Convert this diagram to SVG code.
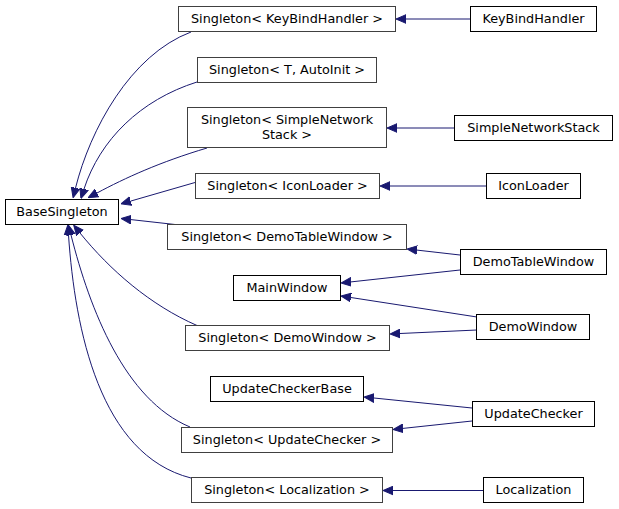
<svg xmlns="http://www.w3.org/2000/svg" width="619" height="509" viewBox="0 0 619 509">
<style>
  .n rect { fill: #ffffff; stroke: #000000; stroke-width: 1; }
  .n.t rect { stroke: #404040; }
  .n text { font-family: "DejaVu Sans", "Liberation Sans", sans-serif; font-size: 12.8px; fill: #000000; text-anchor: middle; }
  .e path { fill: none; stroke: #191970; stroke-width: 1; marker-end: url(#ah); }
</style>
<defs>
  <marker id="ah" viewBox="0 -5 10 10" refX="0" refY="0" markerWidth="10" markerHeight="10" markerUnits="userSpaceOnUse" orient="auto">
    <path d="M0,-4.3 L10,0 L0,4.3 Z" fill="#191970" stroke="#191970" stroke-width="1"/>
  </marker>
</defs>
<rect width="619" height="509" fill="#ffffff"/>
<g id="edges" class="e">
  <path d="M470,19 L406,19"/>
  <path d="M454,128 L397,128"/>
  <path d="M486,186 L390,186"/>
  <path d="M483,490.5 L393,490.5"/>
  <path d="M460,255 L417,250.1"/>
  <path d="M460,270 L351,281.9"/>
  <path d="M477,317 L350.9,297.5"/>
  <path d="M477,330 L400,333.5"/>
  <path d="M472,408 L374,398"/>
  <path d="M472,421 L403,428.4"/>
  <path d="M191,32 C130,55 90,130 75.5,188"/>
  <path d="M197,82 C140,100 100,140 84,189"/>
  <path d="M207,148 C160,162 125,178 97,193"/>
  <path d="M195,182.5 L130.6,201.1"/>
  <path d="M175,224.5 L131,219.6"/>
  <path d="M197,325.5 C150,305 110,270 80,233"/>
  <path d="M190,427 C125,400 90,310 71,235"/>
  <path d="M191,478 C100,455 75,330 68.5,235"/>
</g>
<g id="BaseSingleton" class="n"><rect x="5.5" y="199.5" width="113" height="25"/><text x="62" y="215.5">BaseSingleton</text></g>
<g id="SingletonKeyBindHandler" class="n t"><rect x="178.5" y="6.5" width="217" height="25"/><text x="287" y="22.5">Singleton&lt; KeyBindHandler &gt;</text></g>
<g id="KeyBindHandler" class="n"><rect x="470.5" y="6.5" width="126" height="25"/><text x="533.5" y="22.5">KeyBindHandler</text></g>
<g id="SingletonTAutoInit" class="n t"><rect x="197.5" y="57.5" width="179" height="25"/><text x="287" y="73.5">Singleton&lt; T, AutoInit &gt;</text></g>
<g id="SingletonSimpleNetworkStack" class="n t"><rect x="187.5" y="107.5" width="199" height="40"/><text x="287" y="123.5">Singleton&lt; SimpleNetwork</text><text x="287" y="138.5">Stack &gt;</text></g>
<g id="SimpleNetworkStack" class="n"><rect x="454.5" y="115.5" width="158" height="25"/><text x="533.5" y="131.5">SimpleNetworkStack</text></g>
<g id="SingletonIconLoader" class="n t"><rect x="195.5" y="173.5" width="184" height="25"/><text x="287.5" y="189.5">Singleton&lt; IconLoader &gt;</text></g>
<g id="IconLoader" class="n"><rect x="486.5" y="173.5" width="94" height="25"/><text x="533.5" y="189.5">IconLoader</text></g>
<g id="SingletonDemoTableWindow" class="n t"><rect x="167.5" y="224.5" width="239" height="25"/><text x="287" y="240.5">Singleton&lt; DemoTableWindow &gt;</text></g>
<g id="DemoTableWindow" class="n"><rect x="460.5" y="249.5" width="146" height="25"/><text x="533.5" y="265.5">DemoTableWindow</text></g>
<g id="MainWindow" class="n"><rect x="233.5" y="275.5" width="107" height="25"/><text x="287" y="291.5">MainWindow</text></g>
<g id="DemoWindow" class="n"><rect x="476.5" y="314.5" width="113" height="25"/><text x="533" y="330.5">DemoWindow</text></g>
<g id="SingletonDemoWindow" class="n t"><rect x="185.5" y="325.5" width="204" height="25"/><text x="287.5" y="341.5">Singleton&lt; DemoWindow &gt;</text></g>
<g id="UpdateCheckerBase" class="n"><rect x="210.5" y="376.5" width="153" height="25"/><text x="287" y="392.5">UpdateCheckerBase</text></g>
<g id="UpdateChecker" class="n"><rect x="472.5" y="401.5" width="122" height="25"/><text x="533.5" y="417.5">UpdateChecker</text></g>
<g id="SingletonUpdateChecker" class="n t"><rect x="181.5" y="427.5" width="211" height="25"/><text x="287" y="443.5">Singleton&lt; UpdateChecker &gt;</text></g>
<g id="SingletonLocalization" class="n t"><rect x="191.5" y="477.5" width="191" height="25"/><text x="287" y="493.5">Singleton&lt; Localization &gt;</text></g>
<g id="Localization" class="n"><rect x="483.5" y="477.5" width="100" height="25"/><text x="533.5" y="493.5">Localization</text></g>
</svg>
